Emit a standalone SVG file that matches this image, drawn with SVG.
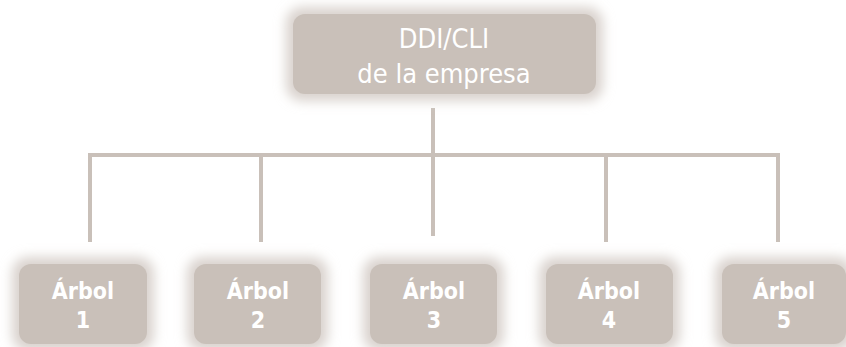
<svg xmlns="http://www.w3.org/2000/svg" width="846" height="347" viewBox="0 0 846 347">
<style>
.box{fill:#C9C0B9}
.glow{fill:#D9D2CD;filter:url(#blur)}
.top{font-family:"DejaVu Sans Condensed","DejaVu Sans",Verdana,sans-serif;font-stretch:condensed;font-size:27px;fill:#FFFFFF;text-anchor:middle}
.leaf{font-family:"DejaVu Sans Condensed","DejaVu Sans",Verdana,sans-serif;font-stretch:condensed;font-size:23px;font-weight:bold;fill:#FFFFFF;text-anchor:middle}
.conn{stroke:#C9C0B9;stroke-width:4;fill:none}
</style>
<defs>
<filter id="blur" x="-20%" y="-30%" width="140%" height="160%"><feGaussianBlur stdDeviation="6"/></filter>
</defs>
<rect width="846" height="347" fill="#FFFFFF"/>
<g id="connectors">
<path class="conn" d="M433 108 V155 M90 155 H778 M90 153 V242 M261 153 V242 M433 153 V236 M606 153 V242 M778 153 V242"/>
</g>
<g id="root">
<rect class="glow" x="286" y="7" width="317" height="94" rx="16"/>
<rect class="box" x="293" y="14" width="303" height="80" rx="12"/>
<text class="top" x="444" y="48">DDI/CLI</text>
<text class="top" x="444" y="83">de la empresa</text>
</g>
<g id="arbol1">
<rect class="glow" x="12" y="257" width="142" height="94" rx="16"/>
<rect class="box" x="19" y="264" width="128" height="80" rx="12"/>
<text class="leaf" x="83" y="299">Árbol</text>
<text class="leaf" x="83" y="328">1</text>
</g>
<g id="arbol2">
<rect class="glow" x="187" y="257" width="141" height="94" rx="16"/>
<rect class="box" x="194" y="264" width="127" height="80" rx="12"/>
<text class="leaf" x="258" y="299">Árbol</text>
<text class="leaf" x="258" y="328">2</text>
</g>
<g id="arbol3">
<rect class="glow" x="363" y="257" width="141" height="94" rx="16"/>
<rect class="box" x="370" y="264" width="127" height="80" rx="12"/>
<text class="leaf" x="434" y="299">Árbol</text>
<text class="leaf" x="434" y="328">3</text>
</g>
<g id="arbol4">
<rect class="glow" x="539" y="257" width="141" height="94" rx="16"/>
<rect class="box" x="546" y="264" width="127" height="80" rx="12"/>
<text class="leaf" x="609" y="299">Árbol</text>
<text class="leaf" x="609" y="328">4</text>
</g>
<g id="arbol5">
<rect class="glow" x="715" y="257" width="138" height="94" rx="16"/>
<rect class="box" x="722" y="264" width="124" height="80" rx="12"/>
<text class="leaf" x="784" y="299">Árbol</text>
<text class="leaf" x="784" y="328">5</text>
</g>
</svg>
